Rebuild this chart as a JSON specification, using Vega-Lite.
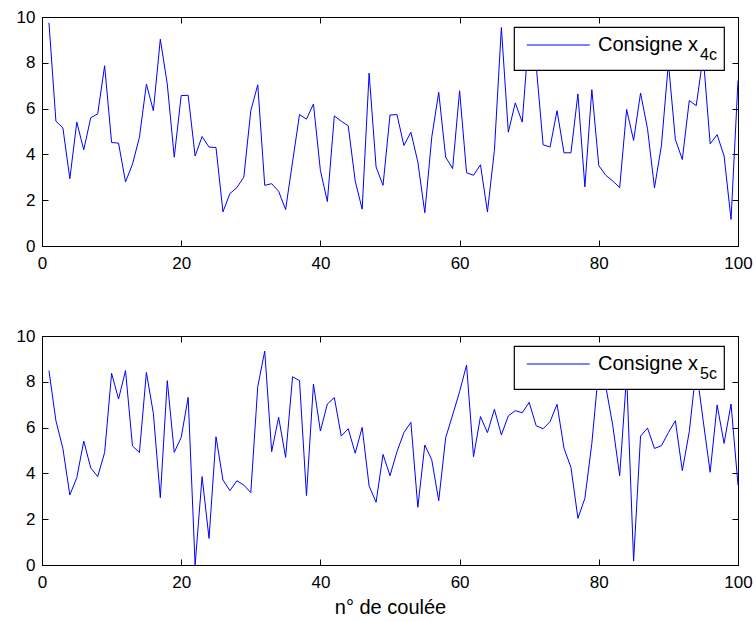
{
  "$schema": "https://vega.github.io/schema/vega-lite/v6.json",
  "background": "white",
  "padding": {"left": 15, "top": 7, "right": 5, "bottom": 5},
  "bounds": "flush",
  "spacing": 90,
  "datasets": {
    "x4c": [
      {"n":1,"v":9.75},{"n":2,"v":5.45},{"n":3,"v":5.16},{"n":4,"v":2.94},{"n":5,"v":5.41},
      {"n":6,"v":4.2},{"n":7,"v":5.6},{"n":8,"v":5.77},{"n":9,"v":7.87},{"n":10,"v":4.52},
      {"n":11,"v":4.49},{"n":12,"v":2.8},{"n":13,"v":3.57},{"n":14,"v":4.75},{"n":15,"v":7.07},
      {"n":16,"v":5.91},{"n":17,"v":9.03},{"n":18,"v":7.07},{"n":19,"v":3.88},{"n":20,"v":6.57},
      {"n":21,"v":6.58},{"n":22,"v":3.93},{"n":23,"v":4.78},{"n":24,"v":4.32},{"n":25,"v":4.3},
      {"n":26,"v":1.49},{"n":27,"v":2.29},{"n":28,"v":2.55},{"n":29,"v":3.01},{"n":30,"v":5.91},
      {"n":31,"v":7.04},{"n":32,"v":2.65},{"n":33,"v":2.72},{"n":34,"v":2.39},{"n":35,"v":1.59},
      {"n":36,"v":3.67},{"n":37,"v":5.74},{"n":38,"v":5.54},{"n":39,"v":6.2},{"n":40,"v":3.3},
      {"n":41,"v":1.94},{"n":42,"v":5.68},{"n":43,"v":5.45},{"n":44,"v":5.25},{"n":45,"v":2.84},
      {"n":46,"v":1.61},{"n":47,"v":7.55},{"n":48,"v":3.45},{"n":49,"v":2.65},{"n":50,"v":5.72},
      {"n":51,"v":5.74},{"n":52,"v":4.39},{"n":53,"v":4.97},{"n":54,"v":3.67},{"n":55,"v":1.45},
      {"n":56,"v":4.75},{"n":57,"v":6.71},{"n":58,"v":3.88},{"n":59,"v":3.38},{"n":60,"v":6.78},
      {"n":61,"v":3.2},{"n":62,"v":3.09},{"n":63,"v":3.55},{"n":64,"v":1.49},{"n":65,"v":4.17},
      {"n":66,"v":9.54},{"n":67,"v":4.97},{"n":68,"v":6.25},{"n":69,"v":5.41},{"n":70,"v":9.4},
      {"n":71,"v":7.9},{"n":72,"v":4.42},{"n":73,"v":4.32},{"n":74,"v":5.91},{"n":75,"v":4.07},
      {"n":76,"v":4.07},{"n":77,"v":6.64},{"n":78,"v":2.58},{"n":79,"v":6.83},{"n":80,"v":3.51},
      {"n":81,"v":3.09},{"n":82,"v":2.84},{"n":83,"v":2.55},{"n":84,"v":5.96},{"n":85,"v":4.61},
      {"n":86,"v":6.68},{"n":87,"v":5.12},{"n":88,"v":2.54},{"n":89,"v":4.39},{"n":90,"v":8.0},
      {"n":91,"v":4.65},{"n":92,"v":3.78},{"n":93,"v":6.35},{"n":94,"v":6.13},{"n":95,"v":8.3},
      {"n":96,"v":4.46},{"n":97,"v":4.86},{"n":98,"v":3.93},{"n":99,"v":1.16},{"n":100,"v":7.22}
    ],
    "x5c": [
      {"n":1,"v":8.49},{"n":2,"v":6.3},{"n":3,"v":5.09},{"n":4,"v":3.06},{"n":5,"v":3.81},
      {"n":6,"v":5.41},{"n":7,"v":4.24},{"n":8,"v":3.86},{"n":9,"v":4.91},{"n":10,"v":8.37},
      {"n":11,"v":7.25},{"n":12,"v":8.49},{"n":13,"v":5.2},{"n":14,"v":4.91},{"n":15,"v":8.41},
      {"n":16,"v":6.62},{"n":17,"v":2.94},{"n":18,"v":8.05},{"n":19,"v":4.92},{"n":20,"v":5.57},
      {"n":21,"v":7.32},{"n":22,"v":0.0},{"n":23,"v":3.86},{"n":24,"v":1.16},{"n":25,"v":5.6},
      {"n":26,"v":3.71},{"n":27,"v":3.25},{"n":28,"v":3.68},{"n":29,"v":3.49},{"n":30,"v":3.16},
      {"n":31,"v":7.79},{"n":32,"v":9.34},{"n":33,"v":4.95},{"n":34,"v":6.45},{"n":35,"v":4.7},
      {"n":36,"v":8.22},{"n":37,"v":8.05},{"n":38,"v":3.03},{"n":39,"v":7.9},{"n":40,"v":5.85},
      {"n":41,"v":7.03},{"n":42,"v":7.31},{"n":43,"v":5.63},{"n":44,"v":5.95},{"n":45,"v":4.88},
      {"n":46,"v":6.01},{"n":47,"v":3.45},{"n":48,"v":2.74},{"n":49,"v":4.83},{"n":50,"v":3.9},
      {"n":51,"v":4.95},{"n":52,"v":5.78},{"n":53,"v":6.23},{"n":54,"v":2.52},{"n":55,"v":5.24},
      {"n":56,"v":4.59},{"n":57,"v":2.81},{"n":58,"v":5.56},{"n":59,"v":6.55},{"n":60,"v":7.57},
      {"n":61,"v":8.73},{"n":62,"v":4.73},{"n":63,"v":6.48},{"n":64,"v":5.78},{"n":65,"v":6.8},
      {"n":66,"v":5.68},{"n":67,"v":6.51},{"n":68,"v":6.74},{"n":69,"v":6.65},{"n":70,"v":7.1},
      {"n":71,"v":6.08},{"n":72,"v":5.95},{"n":73,"v":6.26},{"n":74,"v":7.02},{"n":75,"v":5.1},
      {"n":76,"v":4.26},{"n":77,"v":2.04},{"n":78,"v":2.91},{"n":79,"v":5.31},{"n":80,"v":8.6},
      {"n":81,"v":7.8},{"n":82,"v":6.11},{"n":83,"v":3.9},{"n":84,"v":8.3},{"n":85,"v":0.17},
      {"n":86,"v":5.63},{"n":87,"v":5.98},{"n":88,"v":5.09},{"n":89,"v":5.21},{"n":90,"v":5.78},
      {"n":91,"v":6.3},{"n":92,"v":4.12},{"n":93,"v":5.82},{"n":94,"v":8.6},{"n":95,"v":6.3},
      {"n":96,"v":4.05},{"n":97,"v":6.99},{"n":98,"v":5.31},{"n":99,"v":7.03},{"n":100,"v":3.49}
    ]
  },
  "config": {
    "font": "Liberation Sans",
    "view": {"stroke": "black", "strokeWidth": 1},
    "axis": {
      "grid": false,
      "domainColor": "black",
      "domainWidth": 1,
      "tickColor": "black",
      "tickWidth": 1,
      "tickSize": -6,
      "labelColor": "black",
      "labelFont": "Liberation Sans",
      "labelFontSize": 17,
      "labelFlush": false,
      "titleColor": "black",
      "titleFont": "Liberation Sans",
      "titleFontSize": 20,
      "titleFontWeight": "normal",
      "titlePadding": 7
    },
    "axisX": {"labelPadding": 15},
    "axisY": {"labelPadding": 13},
    "legend": {
      "orient": "none",
      "legendX": 472,
      "legendY": 10,
      "fillColor": "white",
      "strokeColor": "black",
      "strokeWidth": 1.2,
      "padding": 7,
      "symbolType": "M -0.5 0 L 5.5 0",
      "symbolSize": 441,
      "symbolStrokeWidth": 1,
      "labelOffset": 55,
      "labelFont": "Liberation Sans",
      "labelFontSize": 20,
      "labelColor": "black",
      "titleOrient": "right",
      "titleAnchor": "end",
      "titleBaseline": "middle",
      "titleFont": "Liberation Sans",
      "titleFontSize": 16,
      "titleFontWeight": "normal",
      "titleColor": "black",
      "titlePadding": 2,
      "zindex": 1
    }
  },
  "resolve": {"scale": {"color": "independent"}, "legend": {"color": "independent"}},
  "vconcat": [
    {
      "width": 696,
      "height": 229,
      "data": {"name": "x4c"},
      "layer": [
        {
          "mark": {"type": "line", "strokeWidth": 1},
          "encoding": {
            "x": {"field": "n", "type": "quantitative", "scale": {"domain": [0, 100], "nice": false},
                  "axis": {"orient": "bottom", "values": [0, 20, 40, 60, 80, 100], "title": null}},
            "y": {"field": "v", "type": "quantitative", "scale": {"domain": [0, 10], "nice": false},
                  "axis": {"orient": "left", "values": [0, 2, 4, 6, 8, 10], "title": null}},
            "color": {"datum": "Consigne x", "scale": {"range": ["#0000ff"]}, "legend": {"title": "4c"}}
          }
        },
        {
          "mark": {"type": "line", "opacity": 0},
          "encoding": {
            "x": {"field": "n", "type": "quantitative",
                  "axis": {"orient": "top", "values": [0, 20, 40, 60, 80, 100], "labels": false, "title": null}},
            "y": {"field": "v", "type": "quantitative",
                  "axis": {"orient": "right", "values": [0, 2, 4, 6, 8, 10], "labels": false, "title": null}}
          }
        }
      ],
      "resolve": {"axis": {"x": "independent", "y": "independent"}}
    },
    {
      "width": 696,
      "height": 229,
      "data": {"name": "x5c"},
      "layer": [
        {
          "mark": {"type": "line", "strokeWidth": 1},
          "encoding": {
            "x": {"field": "n", "type": "quantitative", "scale": {"domain": [0, 100], "nice": false},
                  "axis": {"orient": "bottom", "values": [0, 20, 40, 60, 80, 100], "title": "n° de coulée"}},
            "y": {"field": "v", "type": "quantitative", "scale": {"domain": [0, 10], "nice": false},
                  "axis": {"orient": "left", "values": [0, 2, 4, 6, 8, 10], "title": null}},
            "color": {"datum": "Consigne x", "scale": {"range": ["#0000ff"]}, "legend": {"title": "5c"}}
          }
        },
        {
          "mark": {"type": "line", "opacity": 0},
          "encoding": {
            "x": {"field": "n", "type": "quantitative",
                  "axis": {"orient": "top", "values": [0, 20, 40, 60, 80, 100], "labels": false, "title": null}},
            "y": {"field": "v", "type": "quantitative",
                  "axis": {"orient": "right", "values": [0, 2, 4, 6, 8, 10], "labels": false, "title": null}}
          }
        }
      ],
      "resolve": {"axis": {"x": "independent", "y": "independent"}}
    }
  ]
}
